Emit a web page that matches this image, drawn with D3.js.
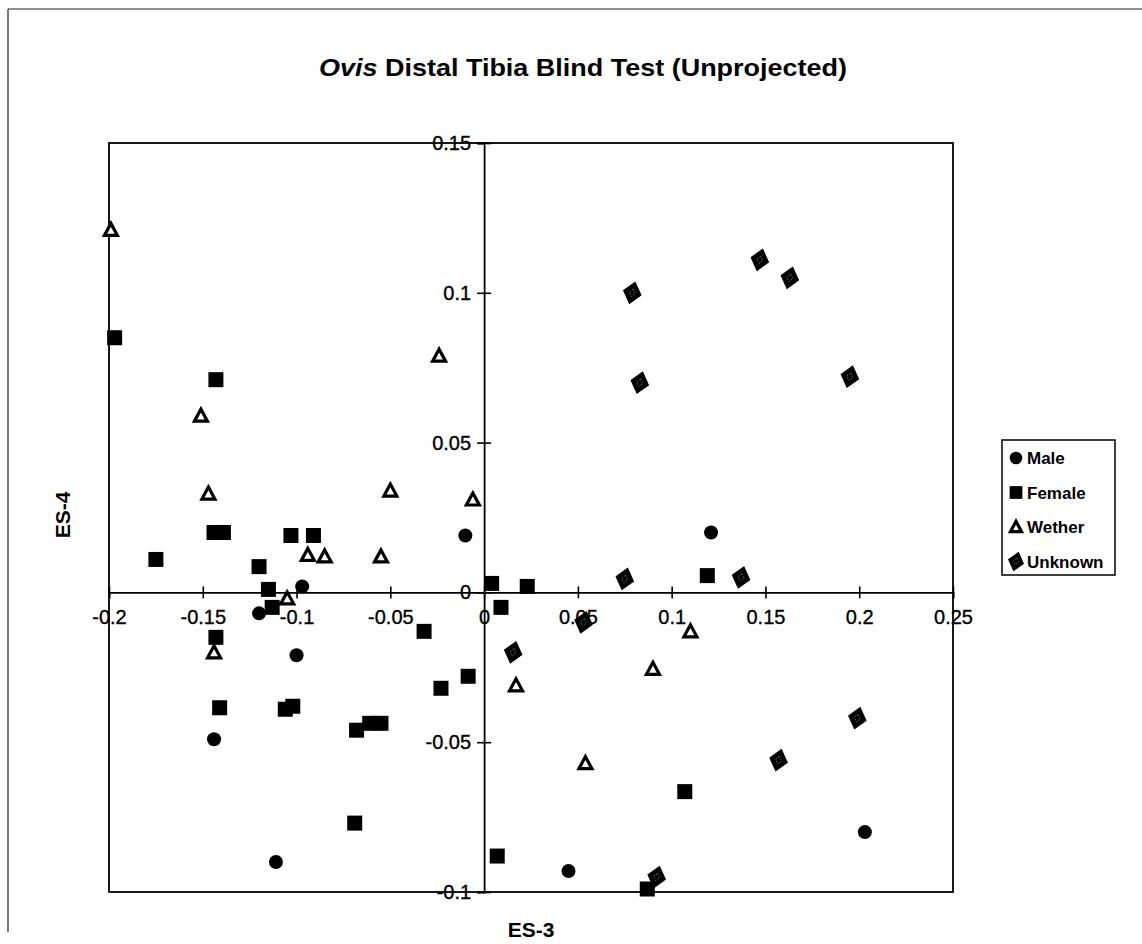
<!DOCTYPE html>
<html><head><meta charset="utf-8">
<script src="https://cdn.jsdelivr.net/npm/d3@7"></script>
<style>
html,body{margin:0;padding:0;background:#fff;}
svg{display:block;font-family:"Liberation Sans",Arial,sans-serif;}
</style></head>
<body><svg id="c" width="1142" height="944"></svg>
<script>
// ---- data ----
const seriesNames = ["Male", "Female", "Wether", "Unknown"];
const maleX = [-0.010, -0.097, -0.120, -0.100, -0.144, -0.111, 0.121, 0.203, 0.045];
const maleY = [0.019, 0.002, -0.007, -0.021, -0.049, -0.090, 0.020, -0.080, -0.093];
const femaleX = [-0.197, -0.143, -0.144, -0.139, -0.175, -0.103, -0.091, -0.120, -0.115, -0.113, -0.143, -0.141, -0.106, -0.102, -0.068, -0.061, -0.055, -0.069, -0.032, -0.023, -0.0085, 0.004, 0.009, 0.023, 0.119, 0.107, 0.007, 0.087];
const femaleY = [0.085, 0.071, 0.020, 0.020, 0.011, 0.019, 0.019, 0.0086, 0.001, -0.005, -0.015, -0.0385, -0.039, -0.038, -0.046, -0.0437, -0.0437, -0.077, -0.013, -0.032, -0.028, 0.003, -0.005, 0.002, 0.0056, -0.0665, -0.088, -0.099];
const wetherX = [-0.199, -0.024, -0.151, -0.147, -0.050, -0.006, -0.094, -0.085, -0.055, -0.105, -0.144, 0.110, 0.017, 0.090, 0.054];
const wetherY = [0.121, 0.079, 0.059, 0.033, 0.034, 0.031, 0.0125, 0.012, 0.012, -0.002, -0.020, -0.013, -0.031, -0.0255, -0.057];
const unknownX = [0.079, 0.147, 0.163, 0.083, 0.195, 0.075, 0.137, 0.053, 0.0155, 0.199, 0.157, 0.092];
const unknownY = [0.100, 0.111, 0.105, 0.070, 0.072, 0.0045, 0.005, -0.010, -0.020, -0.042, -0.056, -0.095];
const xTickValues = [-0.2, -0.15, -0.1, -0.05, 0, 0.05, 0.1, 0.15, 0.2, 0.25];
const xTickLabels = ["-0.2", "-0.15", "-0.1", "-0.05", "0", "0.05", "0.1", "0.15", "0.2", "0.25"];
const yTickValues = [0.15, 0.1, 0.05, 0, -0.05, -0.1];
const yTickLabels = ["0.15", "0.1", "0.05", "0", "-0.05", "-0.1"];

// ---- layout ----
const svg = d3.select("#c");
const L = 109, R = 953, T = 143, B = 892;
const x = d3.scaleLinear().domain([-0.2, 0.25]).range([L, R]);
const y = d3.scaleLinear().domain([-0.1, 0.15]).range([B, T]);
const ink = "#000";

// page frame lines
svg.append("line").attr("x1", 8).attr("y1", 9).attr("x2", 8).attr("y2", 932).attr("stroke", "#222").attr("stroke-width", 1.2);
svg.append("line").attr("x1", 8).attr("y1", 9).attr("x2", 1142).attr("y2", 9).attr("stroke", "#222").attr("stroke-width", 1.2);

// title
const title = svg.append("text").attr("x", 583).attr("y", 76).attr("text-anchor", "middle")
  .attr("font-size", 24).attr("font-weight", "bold").attr("fill", ink)
  .attr("textLength", 528).attr("lengthAdjust", "spacingAndGlyphs");
title.append("tspan").attr("font-style", "italic").text("Ovis");
title.append("tspan").text(" Distal Tibia Blind Test (Unprojected)");

// plot border
svg.append("rect").attr("x", L).attr("y", T).attr("width", R - L).attr("height", B - T)
  .attr("fill", "none").attr("stroke", ink).attr("stroke-width", 1.8);

// x axis through y=0
const x0 = x(0), y0 = y(0);
const xAxis = d3.axisBottom(x).tickValues(xTickValues).tickSize(6)
  .tickFormat((d, i) => xTickLabels[i]);
const gx = svg.append("g").attr("transform", `translate(0,${y0})`).call(xAxis);
gx.select(".domain").attr("stroke", ink).attr("stroke-width", 1.8);
gx.selectAll(".tick line").attr("y1", -6).attr("y2", 6).attr("stroke", ink).attr("stroke-width", 1.6);
gx.selectAll(".tick text").attr("y", 17).attr("dy", "0.71em").attr("font-size", 20)
  .attr("font-family", "Liberation Sans, Arial, sans-serif").attr("fill", ink)
  .attr("stroke", ink).attr("stroke-width", 0.35);

// y axis through x=0
const yAxis = d3.axisLeft(y).tickValues(yTickValues).tickSize(7)
  .tickFormat((d, i) => yTickLabels[i]);
const gy = svg.append("g").attr("transform", `translate(${x0},0)`).call(yAxis);
gy.select(".domain").attr("stroke", ink).attr("stroke-width", 1.8);
gy.selectAll(".tick line").attr("x1", -7).attr("x2", 7).attr("stroke", ink).attr("stroke-width", 1.6);
gy.selectAll(".tick text").attr("x", -13).attr("font-size", 20)
  .attr("font-family", "Liberation Sans, Arial, sans-serif").attr("fill", ink)
  .attr("stroke", ink).attr("stroke-width", 0.35);

// axis titles
svg.append("text").attr("x", 531).attr("y", 937).attr("text-anchor", "middle")
  .attr("font-size", 21).attr("font-weight", "bold").attr("fill", ink).text("ES-3");
svg.append("text").attr("transform", "translate(70,515) rotate(-90)").attr("text-anchor", "middle")
  .attr("font-size", 21).attr("font-weight", "bold").attr("fill", ink).text("ES-4");

// ---- markers ----
function drawMarker(g, type, cx, cy, s) {
  s = s || 1;
  if (type === "Male") {
    g.append("circle").attr("cx", cx).attr("cy", cy).attr("r", 7 * s).attr("fill", ink);
  } else if (type === "Female") {
    const w = 15 * s;
    g.append("rect").attr("x", cx - w / 2).attr("y", cy - w / 2).attr("width", w).attr("height", w).attr("fill", ink);
  } else if (type === "Wether") {
    const w = 13 * s, h = 11 * s;
    g.append("path").attr("d", `M${cx},${cy - h / 2 - 1}L${cx + w / 2},${cy + h / 2}L${cx - w / 2},${cy + h / 2}Z`)
      .attr("fill", "#fff").attr("stroke", ink).attr("stroke-width", 3.2).attr("stroke-linejoin", "miter");
  } else {
    const w = 9 * s, h = 11 * s;
    g.append("path").attr("d", `M0,${-h}L${w},0L0,${h}L${-w},0Z`)
      .attr("transform", `translate(${cx},${cy}) rotate(15)`).attr("fill", ink)
      .attr("stroke", ink).attr("stroke-width", 1);
    g.append("path").attr("d", `M0,${-h * 0.35}L${w * 0.35},0L0,${h * 0.35}L${-w * 0.35},0Z`)
      .attr("transform", `translate(${cx},${cy}) rotate(15)`).attr("fill", "none")
      .attr("stroke", "#777").attr("stroke-width", 0.8).attr("stroke-dasharray", "1.5,1.5");
  }
}

const series = [
  {name: "Male", xs: maleX, ys: maleY},
  {name: "Female", xs: femaleX, ys: femaleY},
  {name: "Wether", xs: wetherX, ys: wetherY},
  {name: "Unknown", xs: unknownX, ys: unknownY}
];
const gm = svg.append("g");
series.forEach(sr => {
  sr.xs.forEach((v, i) => drawMarker(gm, sr.name, x(v), y(sr.ys[i])));
});

// ---- legend ----
const lg = svg.append("g");
lg.append("rect").attr("x", 1002).attr("y", 440).attr("width", 113).attr("height", 135)
  .attr("fill", "#fff").attr("stroke", ink).attr("stroke-width", 1.5);
seriesNames.forEach((n, i) => {
  const cy = 458 + i * 34.5;
  drawMarker(lg, n, 1016, cy, n === "Male" ? 0.9 : 0.85);
  lg.append("text").attr("x", 1027).attr("y", cy).attr("dy", "0.36em")
    .attr("font-size", 17).attr("font-weight", "bold").attr("fill", ink).text(n);
});
</script></body></html>
